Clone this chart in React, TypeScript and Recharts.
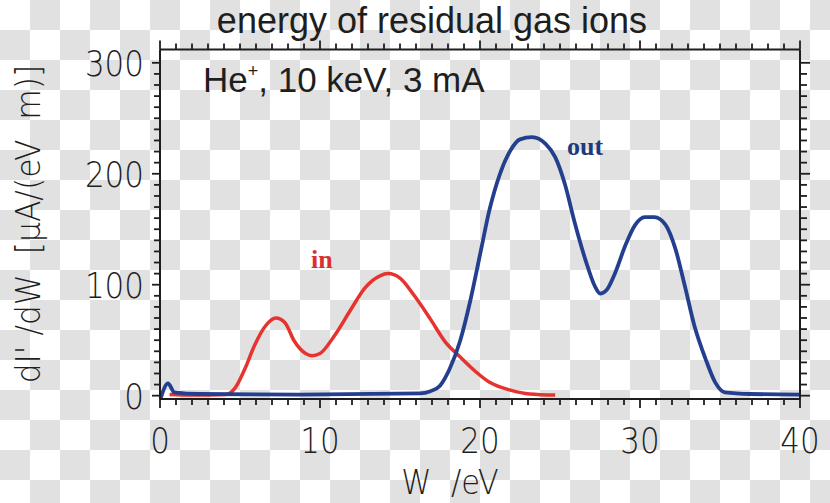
import { LineChart, Line, XAxis, YAxis } from "recharts";

// ion energy spectra (W in eV, dI'/dW in µA/(eV m))
const wIn = [0.6, 2, 4.1, 4.7, 5.3, 5.9, 6.6, 7.25, 7.8, 8.4, 9.1, 9.5, 10, 10.9, 11.9, 12.8, 13.75, 14.25, 15, 15.9, 16.9, 17.8, 18.75, 19.7, 20.6, 21.9, 23.1, 24.7];
const inValues = [1, 0.5, 1, 7, 24, 45, 63, 70, 66, 49, 38, 36, 38, 54, 77, 97, 108, 110, 106, 90, 69, 49, 35, 22, 12, 5, 1.5, 0.5];

const wOut = [0.05, 0.5, 0.9, 2.5, 8.75, 16.25, 16.9, 17.5, 18.1, 18.75, 19.4, 20, 20.6, 21.25, 21.9, 22.5, 23.25, 24.1, 24.7, 25.3, 25.9, 26.6, 27.2, 27.5, 27.9, 28.4, 29.1, 29.7, 30.3, 30.9, 31.6, 32.2, 32.8, 33.4, 34.1, 34.7, 35.3, 36.9, 40];
const outValues = [-2, 11, 3, 1.5, 1, 2, 4, 9, 24, 49, 86, 127, 168, 200, 221, 231, 233, 227, 215, 191, 157, 122, 98, 92, 95, 109, 136, 154, 161, 161, 154, 133, 99, 63, 33, 12, 3, 1.5, 1];

const xLabels = [0, 10, 20, 30, 40];
const yLabels = [0, 100, 200, 300];
const xMinor = Array.from({ length: 41 }, (_, i) => i);
const yMinor = Array.from({ length: 31 }, (_, i) => i * 10);

const inData = wIn.map((w, i) => ({ w, v: inValues[i] }));
const outData = wOut.map((w, i) => ({ w, v: outValues[i] }));

const ink = "#1e1e1e";
const red = "#e6332f";
const blue = "#233f8d";
const tickFont = "'DejaVu Sans', sans-serif";

function BottomTick(props: any) {
  const { x, y, payload } = props;
  const major = xLabels.includes(payload.value);
  return (
    <g>
      <line x1={x} y1={y} x2={x} y2={y + (major ? 9 : 6)} stroke={ink} strokeWidth={1.8} />
      {major && (
        <text
          transform={`translate(${x},${y + 54}) scale(0.86,1)`}
          textAnchor="middle"
          fontFamily={tickFont}
          fontWeight={200}
          fontSize={36}
          fill={ink}
        >
          {payload.value}
        </text>
      )}
    </g>
  );
}

function TopTick(props: any) {
  const { x, y, payload } = props;
  const major = xLabels.includes(payload.value);
  return <line x1={x} y1={y} x2={x} y2={y - (major ? 9 : 6)} stroke={ink} strokeWidth={1.8} />;
}

function LeftTick(props: any) {
  const { x, y, payload } = props;
  const major = yLabels.includes(payload.value);
  return (
    <g>
      <line x1={x} y1={y} x2={x - (major ? 8 : 6)} y2={y} stroke={ink} strokeWidth={1.8} />
      {major && (
        <text
          transform={`translate(${x - 16},${y + 13}) scale(0.86,1)`}
          textAnchor="end"
          fontFamily={tickFont}
          fontWeight={200}
          fontSize={36}
          fill={ink}
        >
          {payload.value}
        </text>
      )}
    </g>
  );
}

function RightTick(props: any) {
  const { x, y, payload } = props;
  const major = yLabels.includes(payload.value);
  return <line x1={x} y1={y} x2={x + (major ? 10 : 7)} y2={y} stroke={ink} strokeWidth={1.8} />;
}

export default function App() {
  return (
    <div
      style={{
        position: "absolute",
        left: 0,
        top: 0,
        width: 830,
        height: 503,
        backgroundColor: "#fff",
        backgroundImage: "conic-gradient(#e1e1e1 0 25%, #fff 0 50%, #e1e1e1 0 75%, #fff 0)",
        backgroundSize: "60px 60px",
      }}
    >
      <LineChart width={830} height={503} margin={{ top: 39.5, right: 20, bottom: 44, left: 100 }}>
        <XAxis
          xAxisId="b"
          type="number"
          dataKey="w"
          domain={[0, 40]}
          ticks={xMinor}
          interval={0}
          height={60}
          tickSize={0}
          tickMargin={0}
          tick={<BottomTick />}
          axisLine={{ stroke: ink, strokeWidth: 2 }}
          allowDataOverflow
        />
        <XAxis
          xAxisId="t"
          orientation="top"
          type="number"
          dataKey="w"
          domain={[0, 40]}
          ticks={xMinor}
          interval={0}
          height={10}
          tickSize={0}
          tickMargin={0}
          tick={<TopTick />}
          axisLine={{ stroke: ink, strokeWidth: 2 }}
          allowDataOverflow
        />
        <YAxis
          yAxisId="l"
          type="number"
          domain={[-3, 312]}
          ticks={yMinor}
          interval={0}
          width={60}
          tickSize={0}
          tickMargin={0}
          tick={<LeftTick />}
          axisLine={{ stroke: ink, strokeWidth: 2 }}
          allowDataOverflow
        />
        <YAxis
          yAxisId="r"
          orientation="right"
          type="number"
          domain={[-3, 312]}
          ticks={yMinor}
          interval={0}
          width={10}
          tickSize={0}
          tickMargin={0}
          tick={<RightTick />}
          axisLine={{ stroke: ink, strokeWidth: 2 }}
          allowDataOverflow
        />
        <Line
          xAxisId="b"
          yAxisId="l"
          data={inData}
          dataKey="v"
          type="monotone"
          stroke={red}
          strokeWidth={3.5}
          dot={false}
          isAnimationActive={false}
        />
        <Line
          xAxisId="b"
          yAxisId="l"
          data={outData}
          dataKey="v"
          type="monotone"
          stroke={blue}
          strokeWidth={3.8}
          dot={false}
          isAnimationActive={false}
        />
      </LineChart>
      <svg width={830} height={503} style={{ position: "absolute", left: 0, top: 0, pointerEvents: "none" }}>
        <text x={432} y={33} textAnchor="middle" fontFamily="'Liberation Sans', Arial, sans-serif" fontSize={36} fill={ink}>
          energy of residual gas ions
        </text>
        <text x={203} y={92} fontFamily="'Liberation Sans', Arial, sans-serif" fontSize={35} fill={ink}>
          He
          <tspan dy={-15} fontSize={18}>+</tspan>
          <tspan dy={15}>, 10 keV, 3 mA</tspan>
        </text>
        <text
          transform="translate(40,224) rotate(-90) scale(0.95,1)"
          textAnchor="middle"
          fontFamily={tickFont}
          fontWeight={200}
          fontSize={33}
          fill={ink}
          style={{ whiteSpace: "pre" }}
        >
          {"dI' /dW  [μA/(eV  m)]"}
        </text>
        <text
          transform="translate(450,494) scale(0.9,1)"
          textAnchor="middle"
          fontFamily={tickFont}
          fontWeight={200}
          fontSize={34}
          fill={ink}
          style={{ whiteSpace: "pre" }}
        >
          {"W  /eV"}
        </text>
        <text x={311} y={268} fontFamily="'Liberation Serif', serif" fontWeight="bold" fontSize={26} fill="#d9312f">
          in
        </text>
        <text x={567} y={155} fontFamily="'Liberation Serif', serif" fontWeight="bold" fontSize={26} fill="#1f3a7d">
          out
        </text>
      </svg>
    </div>
  );
}
